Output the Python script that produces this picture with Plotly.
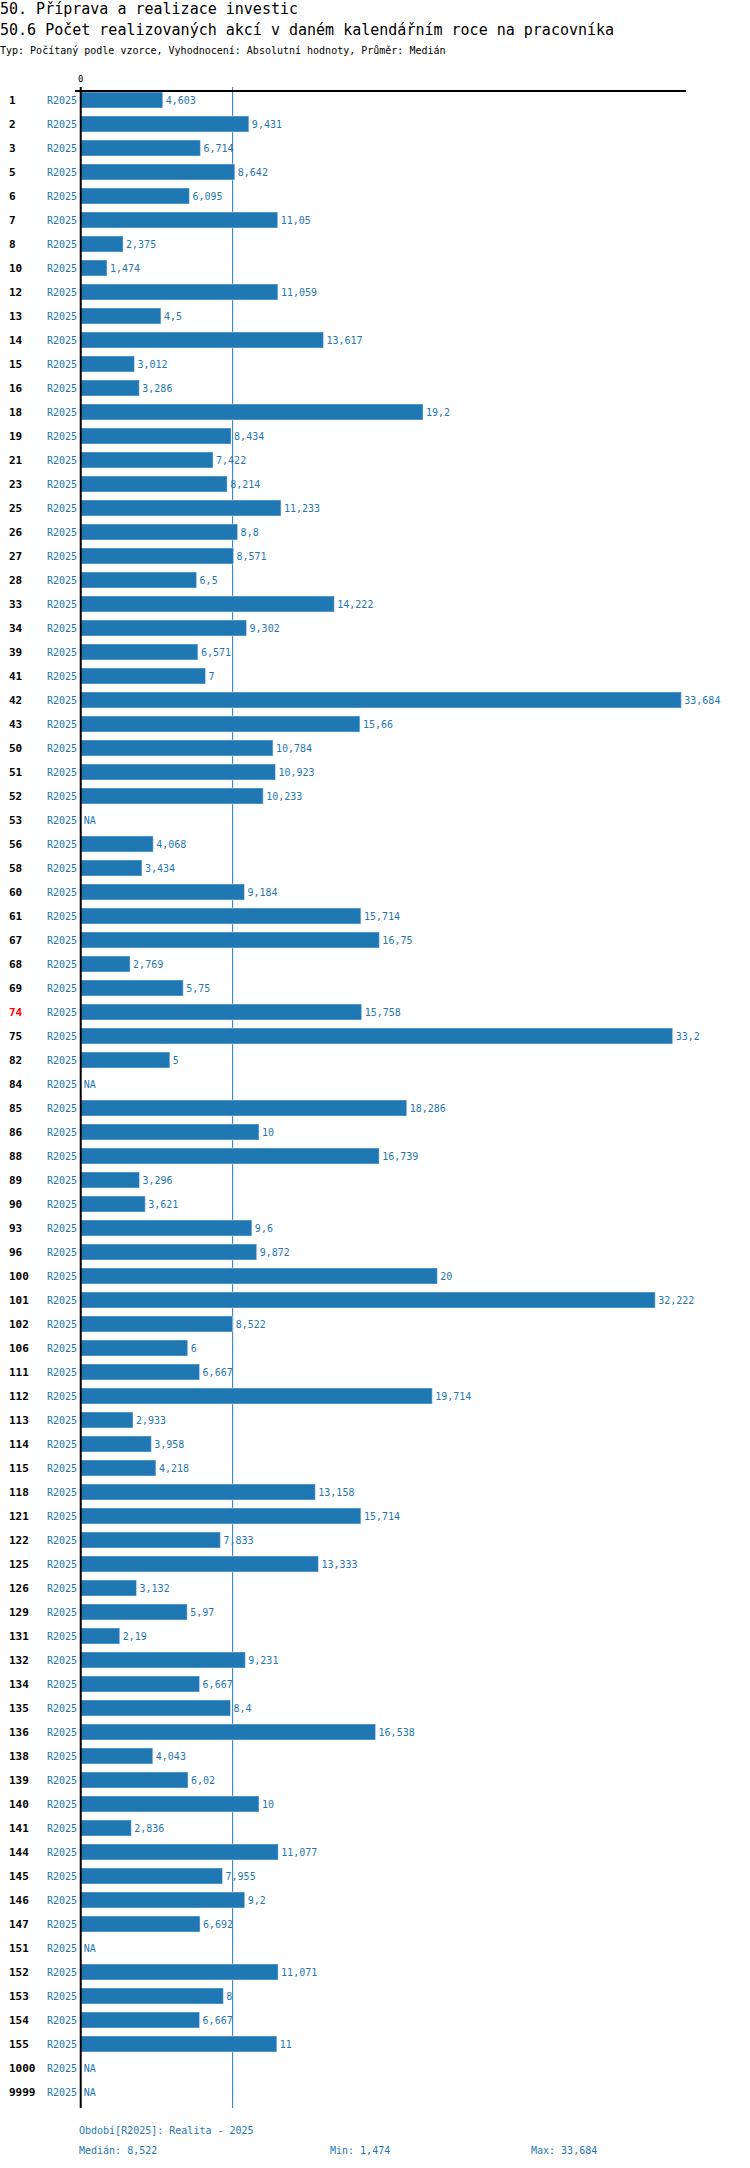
import statistics
import plotly.graph_objects as go

# row ids (worker codes) and the 2025 values, None = NA
rows = ["1", "2", "3", "5", "6", "7", "8", "10", "12", "13",
        "14", "15", "16", "18", "19", "21", "23", "25", "26", "27",
        "28", "33", "34", "39", "41", "42", "43", "50", "51", "52",
        "53", "56", "58", "60", "61", "67", "68", "69", "74", "75",
        "82", "84", "85", "86", "88", "89", "90", "93", "96", "100",
        "101", "102", "106", "111", "112", "113", "114", "115", "118", "121",
        "122", "125", "126", "129", "131", "132", "134", "135", "136", "138",
        "139", "140", "141", "144", "145", "146", "147", "151", "152", "153",
        "154", "155", "1000", "9999"]
values = [4.603, 9.431, 6.714, 8.642, 6.095, 11.05, 2.375, 1.474, 11.059, 4.5,
          13.617, 3.012, 3.286, 19.2, 8.434, 7.422, 8.214, 11.233, 8.8, 8.571,
          6.5, 14.222, 9.302, 6.571, 7, 33.684, 15.66, 10.784, 10.923, 10.233,
          None, 4.068, 3.434, 9.184, 15.714, 16.75, 2.769, 5.75, 15.758, 33.2,
          5, None, 18.286, 10, 16.739, 3.296, 3.621, 9.6, 9.872, 20,
          32.222, 8.522, 6, 6.667, 19.714, 2.933, 3.958, 4.218, 13.158, 15.714,
          7.833, 13.333, 3.132, 5.97, 2.19, 9.231, 6.667, 8.4, 16.538, 4.043,
          6.02, 10, 2.836, 11.077, 7.955, 9.2, 6.692, None, 11.071, 8,
          6.667, 11, None, None]
period = "R2025"
highlight = "74"

BLUE = "#1f77b4"
FONT = "DejaVu Sans Mono"

W, H = 750, 2168
L, R, T, B = 75, 64, 92, 60
PW, PH = W - L - R, H - T - B


def fmt(v):
    if v is None:
        return "NA"
    s = f"{v:.3f}".rstrip("0").rstrip(".")
    return s.replace(".", ",")


def px_x(p):
    return (p - L) / PW


def px_y(p):
    return (H - B - p) / PH


known = [v for v in values if v is not None]
med = statistics.median(known)
idx = list(range(len(rows)))

fig = go.Figure()
fig.add_trace(go.Bar(
    y=idx,
    x=[v if v is not None else 0 for v in values],
    orientation="h",
    marker_color=BLUE,
    text=[fmt(v) for v in values],
    textposition="outside",
    outsidetextfont=dict(family=FONT, size=10, color=BLUE),
    cliponaxis=False,
    hoverinfo="skip",
))

ann = []
for i, r in enumerate(rows):
    ann.append(dict(x=px_x(7), xref="paper", y=i, yref="y", xanchor="left",
                    text="<b>%s</b>" % r, showarrow=False,
                    font=dict(family=FONT, size=11,
                              color="#ff0000" if r == highlight else "black")))
    ann.append(dict(x=px_x(79), xref="paper", y=i, yref="y", xanchor="right",
                    text=period, showarrow=False,
                    font=dict(family=FONT, size=10, color=BLUE)))

heads = [
    ("50. Příprava a realizace investic", 9, 15),
    ("50.6 Počet realizovaných akcí v daném kalendářním roce na pracovníka", 30, 15),
    ("Typ: Počítaný podle vzorce, Vyhodnocení: Absolutní hodnoty, Průměr: Medián", 51, 10),
]
for txt, y, s in heads:
    ann.append(dict(x=px_x(-2), xref="paper", y=px_y(y), yref="paper",
                    xanchor="left", yanchor="middle", text=txt, showarrow=False,
                    font=dict(family=FONT, size=s, color="black")))

foot = [
    ("Období[%s]: Realita - 2025" % period, 77, 2130),
    ("Medián: " + fmt(med), 77, 2150),
    ("Min: " + fmt(min(known)), 328, 2150),
    ("Max: " + fmt(max(known)), 529, 2150),
]
for txt, x, y in foot:
    ann.append(dict(x=px_x(x), xref="paper", y=px_y(y), yref="paper",
                    xanchor="left", yanchor="middle", text=txt, showarrow=False,
                    font=dict(family=FONT, size=10, color=BLUE)))

# origin axis line and median line
fig.add_shape(type="line", x0=0, x1=0, xref="x", y0=0, y1=px_y(87), yref="paper",
              line=dict(color="black", width=2), layer="above")
fig.add_shape(type="line", x0=med, x1=med, xref="x", y0=0, y1=px_y(87), yref="paper",
              line=dict(color=BLUE, width=1), layer="below")

fig.update_layout(
    width=W, height=H,
    margin=dict(l=L, r=R, t=T, b=B, pad=0),
    paper_bgcolor="white", plot_bgcolor="white",
    showlegend=False,
    bargap=1 / 3,
    font=dict(family=FONT),
    annotations=ann,
    xaxis=dict(range=[-0.32, -0.32 + PW / 17.83], side="top",
               showline=True, linecolor="black", linewidth=2,
               showgrid=False, zeroline=False, ticks="",
               tickvals=[0], ticktext=["0"], ticklabelstandoff=4,
               tickfont=dict(family=FONT, size=9, color="black")),
    yaxis=dict(range=[len(rows) - 1 + 2 / 3, -1 / 3], showticklabels=False,
               showgrid=False, zeroline=False, showline=False),
)

fig.write_html("out.html", config={"displayModeBar": False},
               post_script="document.body.style.margin='0';")
